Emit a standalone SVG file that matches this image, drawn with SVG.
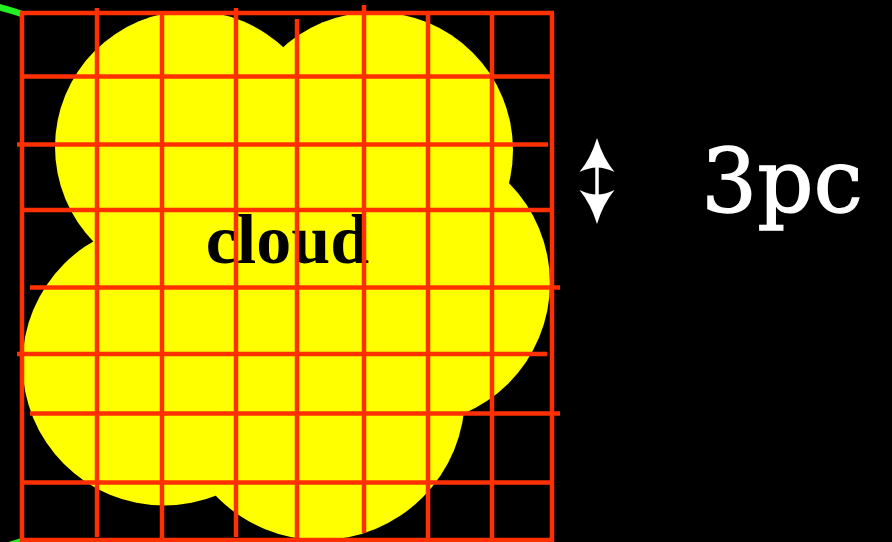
<svg xmlns="http://www.w3.org/2000/svg" width="892" height="542" viewBox="0 0 892 542">
  <style>
    .lobe { fill: #ffff00; }
    .grid line { stroke: #ff3000; stroke-width: 4.5; stroke-linecap: butt; }
    .arc { fill: none; stroke: #22ee22; stroke-width: 6.5; }
    .label { font-family: "Liberation Serif", "Times New Roman", serif; font-weight: bold; fill: #000000; }
    .dim { font-family: "DejaVu Serif", "Liberation Serif", serif; fill: #ffffff; stroke: #ffffff; stroke-width: 1.3; }
    .shaft { stroke: #ffffff; stroke-width: 3.5; fill: none; }
    .head { fill: #ffffff; }
  </style>
  <defs>
    <path id="arrowhead" d="M0,0 Q6,20 17.5,34 Q8,29.5 0,29.5 Q-8,29.5 -17.5,34 Q-6,20 0,0 Z"/>
  </defs>
  <rect x="0" y="0" width="892" height="542" fill="#000000"/>

  <g id="arc">
    <path class="arc" d="M 22 14 A 279 279 0 1 0 22 541"/>
  </g>

  <g id="cloud">
    <circle class="lobe" cx="191" cy="147" r="136"/>
    <circle class="lobe" cx="375" cy="150" r="138"/>
    <circle class="lobe" cx="408" cy="283" r="142"/>
    <circle class="lobe" cx="320" cy="395" r="145"/>
    <circle class="lobe" cx="164" cy="364" r="141.5"/>
    <ellipse class="lobe" cx="290" cy="280" rx="170" ry="140"/>
    <text class="label" x="287.5" y="263" font-size="70" text-anchor="middle">cloud</text>
  </g>

  <g id="grid" class="grid">
    <line x1="22" y1="13" x2="22" y2="542"/>
    <line x1="97" y1="8" x2="97" y2="537"/>
    <line x1="162" y1="13" x2="162" y2="542"/>
    <line x1="236" y1="8" x2="236" y2="537"/>
    <line x1="297" y1="19" x2="297" y2="542"/>
    <line x1="364" y1="5" x2="364" y2="533"/>
    <line x1="428" y1="13" x2="428" y2="542"/>
    <line x1="492" y1="13" x2="492" y2="542"/>
    <line x1="552" y1="13" x2="552" y2="542"/>
    <line x1="20" y1="13" x2="554" y2="13"/>
    <line x1="22" y1="76.5" x2="552" y2="76.5"/>
    <line x1="17" y1="144.5" x2="548" y2="144.5"/>
    <line x1="22" y1="210" x2="552" y2="210"/>
    <line x1="30" y1="287.5" x2="560" y2="287.5"/>
    <line x1="17" y1="354" x2="547" y2="354"/>
    <line x1="30" y1="413.5" x2="560" y2="413.5"/>
    <line x1="22" y1="482.5" x2="552" y2="482.5"/>
    <line x1="20" y1="540" x2="554" y2="540"/>
  </g>

  <g id="connectors">
    <line class="shaft" x1="597" y1="164" x2="597" y2="196"/>
    <use href="#arrowhead" class="head" transform="translate(597,138)"/>
    <use href="#arrowhead" class="head" transform="translate(597,224) scale(1,-1)"/>
  </g>

  <g id="dimension-label">
    <text class="dim" x="782" y="212" font-size="88" text-anchor="middle">3pc</text>
  </g>
</svg>
